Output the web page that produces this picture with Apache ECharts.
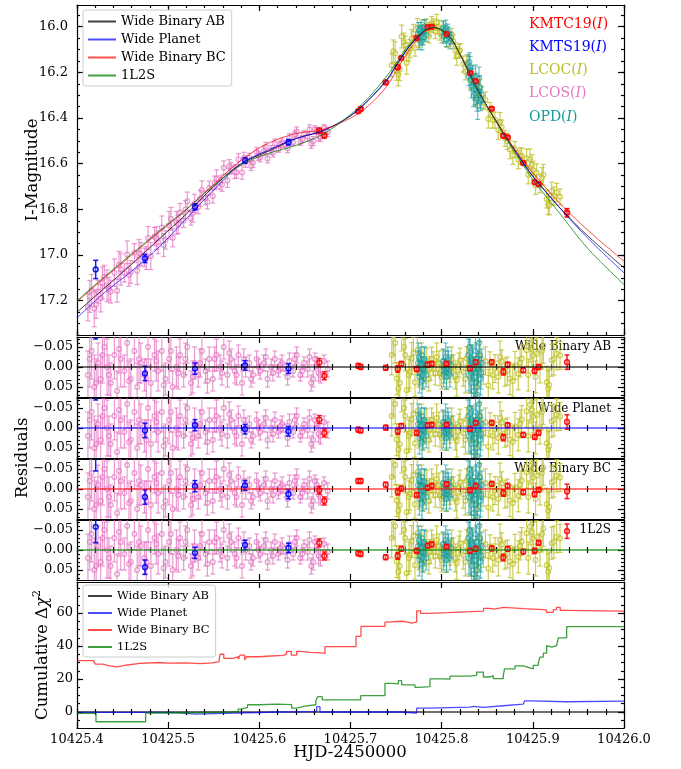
<!DOCTYPE html>
<html>
<head>
<meta charset="utf-8">
<script src="https://cdn.jsdelivr.net/npm/echarts@6/dist/echarts.min.js"></script>
<style>
html, body { margin: 0; padding: 0; background: #fff; }
#chart { width: 681px; height: 769px; }
</style>
</head>
<body>
<div id="chart"></div>
<script>
// all times are HJD-2450000 minus T0
const T0 = 10425
const xTicks = [0.4, 0.5, 0.6, 0.7, 0.8, 0.9, 1.0]
const magTicks = [16.0, 16.2, 16.4, 16.6, 16.8, 17.0, 17.2]
const resTicks = [-0.05, 0, 0.05]
const chiTicks = [0, 20, 40, 60]

const modelNames = ['Wide Binary AB', 'Wide Planet', 'Wide Binary BC', '1L2S']
const modelColors = ['rgba(0,0,0,0.75)', 'rgba(0,0,255,0.7)', 'rgba(255,0,0,0.7)', 'rgba(0,128,0,0.75)']

// model light curves
const modelT = [0.40, 0.43, 0.46, 0.49, 0.52, 0.55, 0.58, 0.61, 0.64, 0.67, 0.70, 0.72, 0.74, 0.75, 0.76, 0.77,
  0.78, 0.79, 0.80, 0.81, 0.82, 0.83, 0.84, 0.85, 0.86, 0.87, 0.88, 0.89, 0.90, 0.93, 0.96, 1.00]
const modelAB = [17.25, 17.145, 17.04, 16.93, 16.82, 16.70, 16.60, 16.545, 16.49, 16.455, 16.39, 16.32, 16.23, 16.17, 16.11, 16.06,
  16.022, 16.003, 16.015, 16.05, 16.12, 16.20, 16.28, 16.35, 16.415, 16.48, 16.54, 16.60, 16.655, 16.795, 16.915, 17.056]
const modelWP = [17.275, 17.165, 17.07, 16.965, 16.84, 16.715, 16.60, 16.54, 16.49, 16.455, 16.39, 16.32, 16.235, 16.172, 16.11, 16.06,
  16.022, 16.003, 16.015, 16.05, 16.12, 16.20, 16.28, 16.35, 16.415, 16.48, 16.54, 16.60, 16.655, 16.795, 16.925, 17.078]
const modelBC = [17.205, 17.10, 17.0, 16.90, 16.80, 16.69, 16.585, 16.51, 16.468, 16.45, 16.40, 16.345, 16.26, 16.195, 16.13, 16.07,
  16.025, 16.003, 16.015, 16.05, 16.12, 16.20, 16.28, 16.35, 16.415, 16.478, 16.535, 16.59, 16.64, 16.775, 16.89, 17.027]
const model1L = [17.20, 17.095, 16.995, 16.895, 16.80, 16.695, 16.605, 16.555, 16.52, 16.47, 16.385, 16.31, 16.215, 16.16, 16.10, 16.055,
  16.02, 16.003, 16.015, 16.05, 16.12, 16.20, 16.28, 16.35, 16.418, 16.485, 16.55, 16.61, 16.67, 16.82, 16.97, 17.129]

// LCOS(I)
const lcosT = [0.412, 0.416, 0.419, 0.423, 0.426, 0.430, 0.433, 0.437, 0.441, 0.444, 0.448, 0.452, 0.455, 0.459, 0.463, 0.466,
  0.470, 0.474, 0.478, 0.481, 0.485, 0.489, 0.493, 0.497, 0.501, 0.505, 0.509, 0.513, 0.517, 0.521, 0.525, 0.529, 0.533,
  0.537, 0.541, 0.545, 0.549, 0.553, 0.557, 0.561, 0.565, 0.569, 0.573, 0.577, 0.581, 0.585, 0.589, 0.593, 0.597, 0.601,
  0.605, 0.609, 0.613, 0.617, 0.621, 0.625, 0.629, 0.633, 0.637, 0.641, 0.645, 0.649, 0.653, 0.657, 0.661, 0.665,
  0.414, 0.421, 0.428, 0.435, 0.446, 0.457, 0.468, 0.476, 0.487, 0.495, 0.503, 0.511, 0.519, 0.527, 0.535, 0.543, 0.551,
  0.559, 0.567, 0.575, 0.583, 0.591, 0.599, 0.607, 0.615, 0.623, 0.631, 0.639, 0.647, 0.655, 0.659, 0.663, 0.667, 0.671, 0.675]
const lcosMag = [17.228, 17.154, 17.234, 17.160, 17.189, 17.095, 17.135, 17.160, 17.077, 17.156, 17.062, 17.078, 16.998, 17.074,
  16.990, 17.069, 16.995, 17.010, 16.925, 17.004, 16.919, 16.944, 16.879, 16.934, 16.869, 16.924, 16.859, 16.814, 16.849,
  16.764, 16.839, 16.774, 16.789, 16.715, 16.750, 16.706, 16.742, 16.667, 16.683, 16.618, 16.674, 16.620, 16.635, 16.581,
  16.638, 16.591, 16.574, 16.596, 16.549, 16.572, 16.544, 16.577, 16.540, 16.512, 16.535, 16.508, 16.515, 16.488, 16.506,
  16.459, 16.505, 16.471, 16.482, 16.513, 16.449, 16.480,
  17.181, 17.217, 17.122, 17.148, 17.044, 17.086, 16.992, 17.013, 16.926, 16.956, 16.841, 16.866, 16.801, 16.816, 16.752,
  16.768, 16.684, 16.691, 16.612, 16.638, 16.575, 16.610, 16.565, 16.526, 16.551, 16.516, 16.532, 16.472, 16.493, 16.450,
  16.501, 16.457, 16.483, 16.444, 16.460]
const lcosErr = [0.06, 0.07, 0.08, 0.05, 0.06, 0.05, 0.07, 0.05, 0.06, 0.05, 0.07, 0.04, 0.06, 0.05, 0.04, 0.06, 0.05, 0.04,
  0.05, 0.06, 0.04, 0.05, 0.05, 0.04, 0.06, 0.04, 0.05, 0.04, 0.03, 0.04, 0.03, 0.04, 0.03, 0.04, 0.03, 0.03, 0.03, 0.04,
  0.03, 0.03, 0.03, 0.025, 0.03, 0.025, 0.03, 0.025, 0.02, 0.02, 0.02, 0.02, 0.02, 0.02, 0.02, 0.02, 0.015, 0.02, 0.015,
  0.02, 0.015, 0.02, 0.015, 0.015, 0.02, 0.02, 0.015, 0.02,
  0.07, 0.06, 0.07, 0.05, 0.06, 0.05, 0.06, 0.05, 0.05, 0.05, 0.05, 0.04, 0.04, 0.04, 0.035, 0.03, 0.03, 0.03, 0.03,
  0.025, 0.025, 0.02, 0.02, 0.02, 0.02, 0.015, 0.02, 0.015, 0.015, 0.02, 0.02, 0.015, 0.02, 0.015, 0.02]
const lcosRes = [0.02, -0.04, 0.05, -0.01, 0.03, -0.05, 0.00, 0.04, -0.03, 0.06, -0.02, 0.01, -0.06, 0.03, -0.04, 0.05,
  -0.01, 0.02, -0.05, 0.04, -0.03, 0.01, -0.04, 0.03, -0.02, 0.05, 0.00, -0.03, 0.02, -0.05, 0.04, -0.01, 0.02, -0.04,
  0.01, -0.02, 0.03, -0.03, 0.00, -0.05, 0.02, -0.02, 0.01, -0.03, 0.04, 0.00, -0.01, 0.02, -0.02, 0.01, -0.01, 0.03,
  0.00, -0.02, 0.01, -0.01, 0.005, -0.015, 0.01, -0.03, 0.02, -0.01, 0.005, 0.04, -0.02, 0.015,
  -0.02, 0.04, -0.03, 0.02, -0.045, 0.035, -0.02, 0.03, -0.015, 0.045, -0.04, 0.015, -0.02, 0.025, -0.01, 0.035, -0.02,
  0.015, -0.035, 0.02, -0.02, 0.03, 0.0, -0.025, 0.015, -0.005, 0.025, -0.02, 0.01, -0.025, 0.03, -0.01, 0.02, -0.015, 0.005]

// LCOC(I)
const lcocT = [0.7452, 0.7470, 0.7507, 0.7525, 0.7561, 0.7587, 0.7616, 0.7652, 0.7671, 0.7707, 0.7733, 0.7762, 0.7799,
  0.7836, 0.7872, 0.7908, 0.7945, 0.7982, 0.8018, 0.8055, 0.8091, 0.8128, 0.8165, 0.8201, 0.8237, 0.8274, 0.8311, 0.8347,
  0.8384, 0.8420, 0.8457, 0.8512, 0.8530, 0.8585, 0.8621, 0.8658, 0.8694, 0.8749, 0.8804, 0.8841, 0.8878, 0.8932, 0.8969,
  0.9005, 0.9042, 0.9078, 0.9115, 0.9152, 0.9169, 0.9207, 0.9261, 0.9298,
  0.749, 0.754, 0.760, 0.764, 0.769, 0.775, 0.778, 0.782, 0.786, 0.789, 0.793, 0.797, 0.800, 0.811, 0.815, 0.819, 0.826,
  0.833, 0.840, 0.848, 0.856, 0.864, 0.872, 0.878, 0.886, 0.895, 0.899, 0.903, 0.910, 0.918, 0.923]
const lcocMag = [16.169, 16.108, 16.195, 16.209, 16.043, 16.068, 16.158, 16.096, 16.053, 16.094, 16.004, 16.032, 16.048,
  15.996, 16.011, 15.995, 15.981, 16.029, 16.008, 16.055, 16.055, 16.065, 16.129, 16.104, 16.163, 16.158, 16.234, 16.242,
  16.305, 16.265, 16.333, 16.404, 16.362, 16.409, 16.453, 16.439, 16.489, 16.538, 16.538, 16.582, 16.566, 16.576, 16.580,
  16.629, 16.640, 16.687, 16.648, 16.754, 16.777, 16.721, 16.726, 16.745,
  16.116, 16.186, 16.080, 16.110, 16.030, 16.056, 16.000, 16.028, 16.041, 15.985, 16.022, 16.001, 16.040, 16.037, 16.105,
  16.108, 16.198, 16.204, 16.290, 16.321, 16.409, 16.416, 16.502, 16.563, 16.566, 16.648, 16.605, 16.694, 16.662, 16.784, 16.742]
const lcocErr = [0.05, 0.05, 0.04, 0.05, 0.05, 0.04, 0.05, 0.04, 0.04, 0.035, 0.04, 0.035, 0.03, 0.03, 0.03, 0.03, 0.035,
  0.03, 0.03, 0.035, 0.03, 0.03, 0.04, 0.03, 0.035, 0.03, 0.04, 0.03, 0.04, 0.035, 0.03, 0.04, 0.03, 0.035, 0.04, 0.03,
  0.035, 0.04, 0.035, 0.04, 0.035, 0.04, 0.045, 0.04, 0.04, 0.04, 0.045, 0.04, 0.045, 0.04, 0.04, 0.035,
  0.05, 0.05, 0.04, 0.04, 0.04, 0.035, 0.03, 0.03, 0.03, 0.03, 0.03, 0.03, 0.03, 0.03, 0.035, 0.03, 0.035, 0.035, 0.04,
  0.035, 0.035, 0.04, 0.035, 0.04, 0.035, 0.04, 0.045, 0.04, 0.045, 0.04, 0.04]
const lcocRes = [-0.03, -0.08, 0.029, 0.054, -0.09, -0.05, 0.058, 0.013, -0.021, 0.038, -0.042, -0.004, 0.025, -0.017,
  0.004, -0.008, -0.025, 0.017, -0.013, 0.021, 0.008, 0.0, 0.033, -0.017, 0.013, -0.021, 0.025, 0.004, 0.038, -0.029,
  0.013, 0.046, -0.008, 0.004, 0.025, -0.013, 0.013, 0.029, -0.004, 0.017, -0.021, -0.042, -0.058, -0.029, -0.033, 0.0,
  -0.054, 0.038, 0.054, -0.017, -0.033, -0.029,
  -0.06, 0.04, -0.03, 0.02, -0.035, 0.015, -0.03, 0.01, 0.03, -0.02, 0.015, -0.01, 0.025, -0.02, 0.02, -0.005, 0.03,
  -0.02, 0.01, -0.015, 0.02, -0.025, 0.01, 0.035, -0.01, 0.02, -0.045, 0.025, -0.04, 0.045, -0.02]

// OPD(I)
const opdT = [0.7740, 0.7755, 0.7770, 0.7785, 0.7800, 0.7815, 0.7830, 0.8015, 0.8030, 0.8045, 0.8060, 0.8075, 0.8090,
  0.8105, 0.8290, 0.8305, 0.8320, 0.8335, 0.8350, 0.8365, 0.8380, 0.8395, 0.8410, 0.8425, 0.8440,
  0.7748, 0.7762, 0.7778, 0.7792, 0.7808, 0.8022, 0.8038, 0.8052, 0.8068, 0.8298, 0.8312, 0.8328, 0.8342, 0.8358,
  0.8372, 0.8388, 0.8402, 0.8418, 0.8432]
const opdMag = [16.030, 16.060, 16.011, 16.062, 16.027, 16.004, 16.036, 16.005, 16.035, 16.006, 16.041, 16.031, 16.067,
  16.049, 16.162, 16.154, 16.231, 16.213, 16.300, 16.292, 16.244, 16.346, 16.227, 16.328, 16.298,
  16.017, 16.051, 16.025, 16.045, 16.000, 16.043, 16.018, 16.058, 16.019, 16.218, 16.175, 16.262, 16.224, 16.271,
  16.218, 16.320, 16.282, 16.264, 16.318]
const opdErr = [0.03, 0.04, 0.03, 0.04, 0.03, 0.035, 0.03, 0.03, 0.03, 0.035, 0.025, 0.03, 0.03, 0.025, 0.04, 0.04, 0.05,
  0.04, 0.05, 0.05, 0.04, 0.06, 0.05, 0.04, 0.035,
  0.035, 0.03, 0.03, 0.035, 0.03, 0.03, 0.03, 0.03, 0.03, 0.04, 0.045, 0.05, 0.04, 0.05, 0.05, 0.05, 0.04, 0.05, 0.04]
const opdRes = [-0.01, 0.025, -0.02, 0.035, 0.005, -0.015, 0.02, -0.015, 0.01, -0.025, 0.005, -0.01, 0.02, -0.005,
  -0.03, -0.05, 0.015, -0.015, 0.06, 0.04, -0.02, 0.07, -0.06, 0.03, -0.01,
  -0.025, 0.015, -0.005, 0.02, -0.02, 0.02, -0.01, 0.025, -0.02, 0.02, -0.035, 0.04, -0.01, 0.025, -0.04, 0.05, 0.0,
  -0.03, 0.015]

// KMTC19(I)
const kmtcT = [0.6658, 0.6713, 0.7085, 0.7112, 0.7386, 0.7518, 0.7557, 0.7726, 0.7847, 0.7891, 0.8055, 0.8311, 0.8373,
  0.8549, 0.8676, 0.8724, 0.8895, 0.9020, 0.9064, 0.9375]
const kmtcMag = [16.455, 16.477, 16.370, 16.360, 16.244, 16.178, 16.137, 16.050, 16.003, 16.000, 16.032, 16.203, 16.239,
  16.359, 16.477, 16.484, 16.597, 16.681, 16.690, 16.815]
const kmtcErr = [0.01, 0.01, 0.006, 0.006, 0.006, 0.008, 0.006, 0.006, 0.006, 0.006, 0.006, 0.006, 0.006, 0.006, 0.008,
  0.006, 0.006, 0.006, 0.006, 0.018]
const kmtcResAB = [-0.011, 0.022, -0.003, 0.0, 0.002, 0.005, -0.008, 0.005, -0.006, -0.008, -0.008, 0.003, -0.012, -0.012,
  0.012, -0.006, 0.008, 0.01, 0.0, -0.012]
const kmtcResWP = [-0.021, 0.0125, 0.004, 0.006, -0.001, 0.008, -0.005, 0.012, -0.007, -0.008, -0.008, 0.002, -0.013,
  -0.013, 0.024, -0.007, 0.017, 0.022, 0.012, -0.015]
const kmtcResBC = [0.003, 0.03, -0.02, -0.02, -0.011, 0.007, -0.001, 0.015, -0.003, -0.008, -0.012, 0.003, -0.008, -0.013,
  0.01, -0.008, 0.008, 0.013, 0.002, 0.006]
const kmtcRes1L = [-0.018, 0.015, 0.008, 0.01, 0.018, 0.015, -0.003, 0.002, -0.011, -0.014, -0.008, 0.002, -0.003, -0.004,
  0.019, -0.003, 0.004, 0.002, -0.018, -0.047]

// KMTS19(I)
const kmtsT = [0.4205, 0.4746, 0.5294, 0.5843, 0.632]
const kmtsMag = [17.063, 17.015, 16.789, 16.586, 16.506]
const kmtsErr = [0.04, 0.018, 0.014, 0.012, 0.012]
const kmtsResAB = [-0.11, 0.016, 0.004, -0.004, 0.004]
const kmtsResWP = [-0.11, 0.006, -0.007, 0.003, 0.008]
const kmtsResBC = [-0.085, 0.02, -0.007, -0.009, 0.013]
const kmtsRes1L = [-0.058, 0.043, 0.007, -0.0125, -0.005]

// cumulative delta chi^2 (step curves)
const cumABT = [0.40, 1.00]
const cumAB = [0, 0]
const cumWPT = [0.40, 0.49, 0.51, 0.53, 0.56, 0.60, 0.62, 0.6629, 0.6665, 0.756, 0.7726, 0.787, 0.8311, 0.835, 0.8457,
  0.8676, 0.8895, 0.891, 0.8969, 0.9371, 1.0]
const cumWP = [-0.2, -0.4, -1.3, -0.8, -0.3, 0.0, 0.2, 3.2, 0.0, -0.6, 2.4, 3.0, 3.4, 2.8, 3.8, 4.8, 5.6, 6.8, 6.2, 6.6, 6.6]
const cumBCT = [0.400, 0.418, 0.420, 0.428, 0.436, 0.444, 0.455, 0.469, 0.490, 0.500, 0.520, 0.535, 0.548, 0.556, 0.557,
  0.561, 0.571, 0.577, 0.579, 0.584, 0.586, 0.600, 0.608, 0.626, 0.630, 0.635, 0.641, 0.645, 0.656, 0.667, 0.672, 0.706,
  0.7115, 0.7378, 0.740, 0.756, 0.760, 0.767, 0.7726, 0.777, 0.787, 0.806, 0.831, 0.846, 0.853, 0.857, 0.868, 0.890,
  0.9115, 0.915, 0.9225, 0.926, 0.930, 0.937, 1.0]
const cumBC = [31.2, 30.5, 29.0, 28.0, 27.4, 28.5, 29.5, 30.0, 29.6, 29.8, 29.3, 29.8, 30.5, 32.0, 35.0, 32.5, 33.5, 32.0,
  34.5, 31.5, 33.5, 33.8, 34.3, 35.2, 36.8, 34.5, 36.8, 36.2, 35.8, 35.5, 39.6, 45.8, 51.9, 54.5, 55.0, 54.8, 53.9, 54.6,
  61.3, 59.8, 60.2, 60.8, 61.2, 62.8, 62.4, 63.4, 62.6, 62.0, 61.8, 60.4, 62.0, 63.4, 61.6, 61.2, 61.2]
const cum1LT = [0.40, 0.4208, 0.4753, 0.50, 0.54, 0.57, 0.5768, 0.58, 0.587, 0.60, 0.62, 0.6355, 0.641, 0.650, 0.662,
  0.664, 0.669, 0.7112, 0.7378, 0.745, 0.7525, 0.7561, 0.7707, 0.775, 0.7872, 0.80, 0.8091, 0.8311, 0.8384, 0.8457,
  0.853, 0.8566, 0.8676, 0.869, 0.8804, 0.8895, 0.8932, 0.9005, 0.906, 0.9078, 0.9115, 0.9152, 0.917, 0.9207, 0.9261,
  0.928, 0.9371, 1.0]
const cum1L = [-0.8, -5.9, -0.6, -0.3, 0.0, 0.4, 1.8, 2.8, 4.4, 4.8, 4.5, 2.4, 3.6, 4.4, 6.8, 9.3, 7.3, 9.9, 17.4, 17.0,
  19.0, 16.5, 14.9, 15.4, 20.1, 19.9, 21.7, 22.2, 24.2, 21.2, 22.0, 20.2, 22.2, 26.2, 27.9, 27.4, 26.2, 28.3, 29.7, 33.3,
  35.7, 40.3, 39.3, 40.3, 39.3, 44.9, 51.8, 51.8]

const FONT = 'DejaVu Serif'
const frame = { color: '#000', width: 1.2 }
const C = { kmtc: '#ff0000', kmts: '#0000ff', lcoc: '#bcbd22', lcos: '#e377c2', opd: '#119a9f' }

const zip = (...cols) => cols[0].map((_, i) => cols.map(c => c[i]))

function ticksBetween (lo, hi, step) {
  const out = []
  for (let k = Math.ceil(lo / step - 1e-9); k * step <= hi + 1e-9; k++) out.push(+(k * step).toFixed(6))
  return out
}

const grids = []
const xAxes = []
const yAxes = []
const xMinor = ticksBetween(0.4, 1.0, 0.02)

function addPanel (top, height, y) {
  const g = grids.length
  grids.push({ left: 77, width: 547, top, height })
  const xi = xAxes.length
  const yi = yAxes.length
  ;['bottom', 'top'].forEach(pos => {
    xAxes.push({
      type: 'value', gridIndex: g, position: pos, min: 0.4, max: 1.0,
      axisLine: { show: true, onZero: false, lineStyle: frame },
      axisTick: { inside: true, length: 6, customValues: xTicks, lineStyle: frame },
      axisLabel: {
        show: pos === 'bottom' && !!y.showX, customValues: xTicks, margin: 5,
        formatter: v => (T0 + v).toFixed(1), fontFamily: FONT, fontSize: 13, color: '#000'
      },
      splitLine: { show: false }
    })
    xAxes.push({
      type: 'value', gridIndex: g, position: pos, min: 0.4, max: 1.0,
      axisLine: { show: false },
      axisTick: { inside: true, length: 3, customValues: xMinor, lineStyle: frame },
      axisLabel: { show: false }, splitLine: { show: false }
    })
  })
  const yMinor = ticksBetween(y.min, y.max, y.minorStep)
  ;['left', 'right'].forEach(pos => {
    yAxes.push({
      type: 'value', gridIndex: g, position: pos, min: y.min, max: y.max, inverse: !!y.inverse,
      axisLine: { show: true, onZero: false, lineStyle: frame },
      axisTick: { inside: true, length: 6, customValues: y.majors, lineStyle: frame },
      axisLabel: {
        show: pos === 'left', customValues: y.majors, margin: y.margin, formatter: y.fmt,
        fontFamily: FONT, fontSize: 13, color: '#000'
      },
      splitLine: { show: false }
    })
    yAxes.push({
      type: 'value', gridIndex: g, position: pos, min: y.min, max: y.max, inverse: !!y.inverse,
      axisLine: { show: false },
      axisTick: { inside: true, length: 3, customValues: yMinor, lineStyle: frame },
      axisLabel: { show: false }, splitLine: { show: false }
    })
  })
  return { x: xi, y: yi }
}

const resFmt = v => (v < 0 ? '\u2212' + Math.abs(v).toFixed(2) : v.toFixed(2))

const main = addPanel(5, 330, {
  min: 15.905, max: 17.35, inverse: true, majors: magTicks, minorStep: 0.05, margin: 9, fmt: v => v.toFixed(1)
})
const resAxes = [337, 398, 459, 520].map(top => addPanel(top, 60, {
  min: -0.075, max: 0.075, inverse: true, majors: resTicks, minorStep: 0.01, margin: 4, fmt: resFmt
}))
const cum = addPanel(582, 146, {
  min: -9.7, max: 78.8, majors: chiTicks, minorStep: 5, margin: 4, fmt: v => String(v), showX: true
})

function errSeries (ax, t, v, e, color, alpha, lw) {
  const w = lw || 1.2
  return {
    type: 'custom', xAxisIndex: ax.x, yAxisIndex: ax.y, clip: true, silent: true,
    encode: { x: 0, y: 1 },
    data: zip(t, v, e),
    renderItem: (params, api) => {
      const x = api.value(0)
      const y = api.value(1)
      const er = api.value(2)
      const p = api.coord([x, y])
      const a = api.coord([x, y - er])
      const b = api.coord([x, y + er])
      const st = { stroke: color, lineWidth: w, opacity: alpha, fill: null }
      return {
        type: 'group',
        children: [
          { type: 'line', shape: { x1: p[0], y1: a[1], x2: p[0], y2: b[1] }, style: st },
          { type: 'line', shape: { x1: p[0] - 2.5, y1: a[1], x2: p[0] + 2.5, y2: a[1] }, style: st },
          { type: 'line', shape: { x1: p[0] - 2.5, y1: b[1], x2: p[0] + 2.5, y2: b[1] }, style: st },
          { type: 'circle', shape: { cx: p[0], cy: p[1], r: 2.4 }, style: { stroke: color, lineWidth: w, fill: 'rgba(255,255,255,0.25)', opacity: alpha } }
        ]
      }
    }
  }
}

function lineSeries (ax, name, color, data, extra) {
  return Object.assign({
    type: 'line', name, xAxisIndex: ax.x, yAxisIndex: ax.y, data, color,
    symbol: 'none', showSymbol: false, silent: true,
    lineStyle: { color, width: 1 }
  }, extra || {})
}

const series = []

// main light-curve panel
series.push(errSeries(main, lcosT, lcosMag, lcosErr, C.lcos, 0.75))
series.push(errSeries(main, lcocT, lcocMag, lcocErr, C.lcoc, 0.75))
series.push(errSeries(main, opdT, opdMag, opdErr, C.opd, 0.65, 1.1))
const models = [modelAB, modelWP, modelBC, model1L]
models.forEach((m, i) => {
  series.push(lineSeries(main, modelNames[i], modelColors[i], zip(modelT, m), { smooth: 0.35 }))
})
series.push(errSeries(main, kmtcT, kmtcMag, kmtcErr, C.kmtc, 0.9, 1.8))
series.push(errSeries(main, kmtsT, kmtsMag, kmtsErr, C.kmts, 0.9, 1.5))

// residual panels
const kmtcRes = [kmtcResAB, kmtcResWP, kmtcResBC, kmtcRes1L]
const kmtsRes = [kmtsResAB, kmtsResWP, kmtsResBC, kmtsRes1L]
resAxes.forEach((ax, i) => {
  series.push(errSeries(ax, lcosT, lcosRes, lcosErr, C.lcos, 0.75))
  series.push(errSeries(ax, lcocT, lcocRes, lcocErr, C.lcoc, 0.75))
  series.push(errSeries(ax, opdT, opdRes, opdErr, C.opd, 0.65, 1.1))
  series.push(lineSeries(ax, modelNames[i], modelColors[i], [[0.4, 0], [1.0, 0]], { lineStyle: { color: modelColors[i], width: 1.5 } }))
  series.push(errSeries(ax, kmtcT, kmtcRes[i], kmtcErr, C.kmtc, 0.9, 1.5))
  series.push(errSeries(ax, kmtsT, kmtsRes[i], kmtsErr, C.kmts, 0.9, 1.5))
})

// cumulative delta chi^2
const cumT = [cumABT, cumWPT, cumBCT, cum1LT]
const cumV = [cumAB, cumWP, cumBC, cum1L]
cumV.forEach((v, i) => {
  series.push(lineSeries(cum, modelNames[i], modelColors[i], zip(cumT[i], v), { step: 'end', lineStyle: { color: modelColors[i], width: 1.3 } }))
})

const legendBase = {
  orient: 'vertical', left: 83, selectedMode: false, icon: 'rect',
  backgroundColor: 'rgba(255,255,255,0.8)', borderColor: '#cccccc', borderWidth: 1, borderRadius: 3,
  data: modelNames
}

const dataLabels = [
  ['KMTC19(', C.kmtc, 24],
  ['KMTS19(', C.kmts, 47],
  ['LCOC(', C.lcoc, 70],
  ['LCOS(', C.lcos, 93],
  ['OPD(', C.opd, 117]
]
const panelLabels = [['Wide Binary AB', 347], ['Wide Planet', 409], ['Wide Binary BC', 469], ['1L2S', 530]]

const graphic = []
dataLabels.forEach(([txt, col, y]) => {
  graphic.push({
    type: 'text', x: 529, y, silent: true,
    style: {
      text: '{a|' + txt + '}{b|I}{a|)}', textVerticalAlign: 'middle', fill: col,
      rich: {
        a: { fontFamily: FONT, fontSize: 14, fill: col, color: col },
        b: { fontFamily: FONT, fontSize: 14, fontStyle: 'italic', fill: col, color: col }
      }
    }
  })
})
panelLabels.forEach(([txt, y]) => {
  graphic.push({
    type: 'text', x: 611, y, silent: true,
    style: { text: txt, font: '12px "DejaVu Serif"', fill: '#000', textAlign: 'right', textVerticalAlign: 'middle' }
  })
})
graphic.push(
  { type: 'text', x: 33, y: 170, rotation: Math.PI / 2, silent: true,
    style: { text: 'I-Magnitude', font: '16.5px "DejaVu Serif"', fill: '#000', textAlign: 'center', textVerticalAlign: 'middle' } },
  { type: 'text', x: 23, y: 458, rotation: Math.PI / 2, silent: true,
    style: { text: 'Residuals', font: '16.5px "DejaVu Serif"', fill: '#000', textAlign: 'center', textVerticalAlign: 'middle' } },
  { type: 'text', x: 43, y: 655, rotation: Math.PI / 2, silent: true,
    style: {
      text: '{a|Cumulative \u0394}{b|\u03c7}{c|2}', textAlign: 'center', textVerticalAlign: 'middle',
      rich: {
        a: { fontFamily: FONT, fontSize: 16.5, fill: '#000', lineHeight: 22 },
        b: { fontFamily: FONT, fontSize: 16.5, fontStyle: 'italic', fill: '#000', lineHeight: 22 },
        c: { fontFamily: FONT, fontSize: 11, fill: '#000', verticalAlign: 'top', lineHeight: 22 }
      }
    } },
  { type: 'text', x: 350, y: 753, silent: true,
    style: { text: 'HJD-2450000', font: '16.5px "DejaVu Serif"', fill: '#000', textAlign: 'center', textVerticalAlign: 'middle' } }
)

const chart = echarts.init(document.getElementById('chart'), null, { renderer: 'canvas' })
chart.setOption({
  backgroundColor: '#ffffff',
  animation: false,
  textStyle: { fontFamily: FONT },
  grid: grids,
  xAxis: xAxes,
  yAxis: yAxes,
  legend: [
    Object.assign({}, legendBase, {
      top: 10, padding: [5, 6, 4, 5], itemGap: 5, itemWidth: 28, itemHeight: 2,
      textStyle: { fontFamily: FONT, fontSize: 13, color: '#000' }
    }),
    Object.assign({}, legendBase, {
      top: 585, padding: [5, 6, 4, 5], itemGap: 5, itemWidth: 24, itemHeight: 2,
      textStyle: { fontFamily: FONT, fontSize: 11.5, color: '#000' }
    })
  ],
  graphic,
  series
})
</script>
</body>
</html>
